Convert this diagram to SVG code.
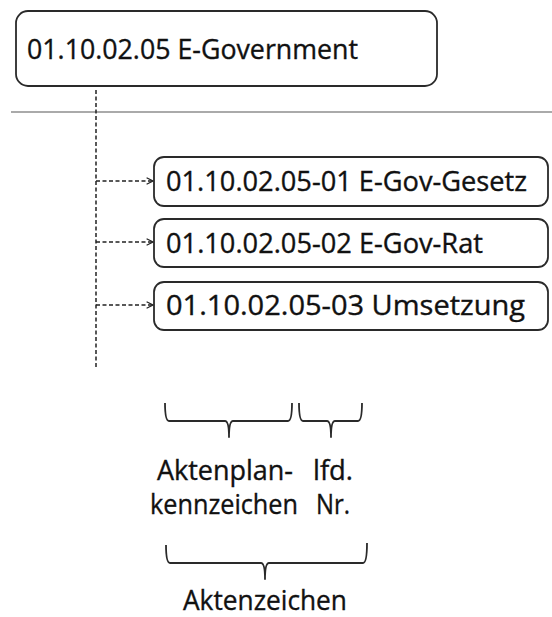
<svg xmlns="http://www.w3.org/2000/svg" width="552" height="617" viewBox="0 0 552 617">
<defs>
<style>
.box{fill:#fff;stroke:#2a2a2a;stroke-width:1.8}
.t{font-family:"Open Sans","Noto Sans",sans-serif;font-size:27px;fill:#111;stroke:#111;stroke-width:0.35}
.dash{stroke:#222;stroke-width:1.5;stroke-dasharray:4 2.5;fill:none}
.brace{fill:none;stroke:#2a2a2a;stroke-width:1.8;stroke-linejoin:round}
</style>
<marker id="ah" viewBox="0 0 10 10" refX="9" refY="5" markerWidth="8" markerHeight="8" markerUnits="userSpaceOnUse" orient="auto">
<path d="M1,1 L9,5 L1,9" fill="none" stroke="#222" stroke-width="1.5"/>
</marker>
</defs>
<rect width="552" height="617" fill="#fff"/>
<line x1="11" y1="112" x2="552" y2="112" stroke="#aaa" stroke-width="2"/>
<g id="connectors">
<line class="dash" x1="96" y1="90" x2="96" y2="368"/>
<line class="dash" x1="96" y1="181" x2="153" y2="181" marker-end="url(#ah)"/>
<line class="dash" x1="96" y1="242" x2="153" y2="242" marker-end="url(#ah)"/>
<line class="dash" x1="96" y1="305" x2="153" y2="305" marker-end="url(#ah)"/>
</g>
<g id="n0">
<rect class="box" x="16" y="11" width="421" height="75" rx="12"/>
<text class="t" x="27" y="59" textLength="331" lengthAdjust="spacingAndGlyphs">01.10.02.05 E-Government</text>
</g>
<g id="n1">
<rect class="box" x="154" y="157" width="394" height="49" rx="10"/>
<text class="t" x="166" y="191" textLength="361" lengthAdjust="spacingAndGlyphs">01.10.02.05-01 E-Gov-Gesetz</text>
</g>
<g id="n2">
<rect class="box" x="154" y="219" width="394" height="48" rx="10"/>
<text class="t" x="166" y="253" textLength="317" lengthAdjust="spacingAndGlyphs">01.10.02.05-02 E-Gov-Rat</text>
</g>
<g id="n3">
<rect class="box" x="154" y="282" width="394" height="48" rx="10"/>
<text class="t" x="166" y="315" textLength="359" lengthAdjust="spacingAndGlyphs">01.10.02.05-03 Umsetzung</text>
</g>
<g id="labels">
<path class="brace" d="M165,403 Q165,421 169,421 L225,421 Q229,421 229,437 Q229,421 233,421 L288,421 Q292,421 292,403"/>
<path class="brace" d="M299,403 Q299,421 303,421 L327,421 Q331,421 331,437 Q331,421 335,421 L358,421 Q362,421 362,403"/>
<path class="brace" d="M166,545 Q166,563 170,563 L261,563 Q265,563 265,579 Q265,563 269,563 L363,563 Q367,563 367,543"/>
<text class="t" x="157" y="480" textLength="136" lengthAdjust="spacingAndGlyphs">Aktenplan-</text>
<text class="t" x="313" y="480" textLength="40" lengthAdjust="spacingAndGlyphs">lfd.</text>
<text class="t" x="150" y="514" textLength="148" lengthAdjust="spacingAndGlyphs">kennzeichen</text>
<text class="t" x="316" y="514" textLength="34" lengthAdjust="spacingAndGlyphs">Nr.</text>
<text class="t" x="183" y="610" textLength="164" lengthAdjust="spacingAndGlyphs">Aktenzeichen</text>
</g>
</svg>
